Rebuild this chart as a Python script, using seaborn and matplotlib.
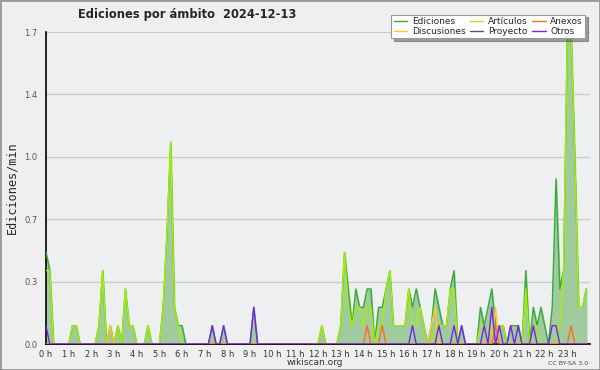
import numpy as np
import pandas as pd
import seaborn as sns
import matplotlib
matplotlib.use("Agg")
import matplotlib.pyplot as plt
from matplotlib.ticker import MultipleLocator, FixedLocator
from matplotlib.lines import Line2D
from matplotlib.patches import Rectangle

# ediciones por minuto, una fila = 2 horas (tramos de 10 min)
ediciones = [
    0.5, 0.4, 0, 0, 0, 0, 0, 0.1, 0.1, 0, 0, 0,
    0, 0, 0.1, 0.4, 0, 0.1, 0, 0.1, 0, 0.3, 0.1, 0.1,
    0, 0, 0, 0.1, 0, 0, 0, 0.2, 0.6, 1.1, 0.2, 0.1,
    0.1, 0, 0, 0, 0, 0, 0, 0, 0.1, 0, 0, 0.1,
    0, 0, 0, 0, 0, 0, 0, 0.2, 0, 0, 0, 0,
    0, 0, 0, 0, 0, 0, 0, 0, 0, 0, 0, 0,
    0, 0.1, 0, 0, 0, 0, 0.1, 0.5, 0.3, 0.1, 0.3, 0.2,
    0.2, 0.3, 0.3, 0, 0.2, 0.2, 0.3, 0.4, 0.1, 0.1, 0.1, 0.1,
    0.3, 0.2, 0.3, 0.2, 0.1, 0, 0.1, 0.3, 0.2, 0.1, 0.1, 0.3,
    0.4, 0, 0.1, 0, 0, 0, 0, 0.2, 0.1, 0.2, 0.3, 0.1,
    0.1, 0.1, 0, 0.1, 0.1, 0.1, 0, 0.4, 0, 0.2, 0.1, 0.2,
    0.1, 0, 0.2, 0.9, 0.3, 0.4, 1.7, 1.7, 1.0, 0.2, 0.2, 0.3,
]
articulos = [
    0.4, 0.4, 0, 0, 0, 0, 0, 0.1, 0.1, 0, 0, 0,
    0, 0, 0.1, 0.4, 0, 0, 0, 0.1, 0, 0.3, 0.1, 0.1,
    0, 0, 0, 0.1, 0, 0, 0, 0.2, 0.6, 1.1, 0.2, 0.1,
    0, 0, 0, 0, 0, 0, 0, 0, 0, 0, 0, 0,
    0, 0, 0, 0, 0, 0, 0, 0, 0, 0, 0, 0,
    0, 0, 0, 0, 0, 0, 0, 0, 0, 0, 0, 0,
    0, 0.1, 0, 0, 0, 0, 0.1, 0.5, 0.2, 0.1, 0.2, 0.2,
    0.1, 0.2, 0.2, 0, 0.1, 0.1, 0.3, 0.4, 0.1, 0.1, 0.1, 0.1,
    0.3, 0.1, 0.1, 0.2, 0.1, 0, 0, 0.1, 0.1, 0.1, 0.1, 0.3,
    0.3, 0, 0, 0, 0, 0, 0, 0.1, 0.1, 0, 0.1, 0.1,
    0.1, 0.1, 0, 0, 0, 0, 0, 0.3, 0, 0.1, 0.1, 0,
    0, 0, 0, 0, 0.1, 0.4, 1.7, 1.7, 1.0, 0.2, 0.2, 0.3,
]
# series casi vacias: indice del tramo -> valor
discusiones = {17: 0.1, 102: 0.1, 103: 0.2, 119: 0.2}
proyecto = {}
anexos = {85: 0.1, 89: 0.1, 119: 0.1, 139: 0.1}
otros = {0: 0.1, 44: 0.1, 47: 0.1, 55: 0.2, 97: 0.1, 104: 0.1, 108: 0.1,
         110: 0.1, 116: 0.1, 118: 0.2, 120: 0.1, 123: 0.1, 125: 0.1,
         129: 0.1, 134: 0.1, 135: 0.1}

n = len(ediciones)
horas = np.arange(n) / 6


def completa(d):
    v = np.zeros(n)
    for k, val in d.items():
        v[k] = val
    return v


series = {
    'Ediciones': np.array(ediciones),
    'Artículos': np.array(articulos),
    'Discusiones': completa(discusiones),
    'Proyecto': completa(proyecto),
    'Anexos': completa(anexos),
    'Otros': completa(otros),
}
colores = {
    'Ediciones': '#3aaa3a',
    'Artículos': '#aaee00',
    'Discusiones': '#ffc830',
    'Proyecto': '#555555',
    'Anexos': '#ff6a22',
    'Otros': '#7a22ee',
}
orden_dibujo = ['Ediciones', 'Artículos', 'Discusiones', 'Proyecto', 'Anexos', 'Otros']

df = pd.concat([pd.DataFrame({'hora': horas, 'valor': series[s], 'serie': s})
                for s in orden_dibujo], ignore_index=True)

sns.set_style('white')
plt.rcParams['font.family'] = ['DejaVu Sans']

fig = plt.figure(figsize=(6, 3.7), dpi=100, facecolor='#efefef')
ax = fig.add_axes([46 / 600, 1 - 344 / 370, 544 / 600, 312 / 370])
ax.set_facecolor('#eeeff1')

ax.fill_between(horas, series['Ediciones'], color='#9fcb9f', zorder=1)
sns.lineplot(data=df, x='hora', y='valor', hue='serie', hue_order=orden_dibujo,
             palette=colores, linewidth=1.0, legend=False, ax=ax, zorder=3)

ax.set_xlim(0, 24)
ax.set_ylim(0, 1.7)
ax.set_xlabel('')
ax.set_ylabel('Ediciones/min', family='DejaVu Sans Mono', fontsize=8.5, labelpad=4)

ax.xaxis.set_major_locator(FixedLocator(range(24)))
ax.set_xticklabels([f'{h} h' for h in range(24)], fontsize=6, color='#333333')
ax.xaxis.set_minor_locator(MultipleLocator(1 / 6))
yt = np.linspace(0, 1.7, 6)
ax.set_yticks(yt)
ax.set_yticklabels([f'{v:.1f}' for v in yt], fontsize=6, color='#555555')
ax.yaxis.set_minor_locator(MultipleLocator(1.7 / 15))
ax.tick_params(axis='both', which='both', direction='out', color='black', width=1)
ax.tick_params(axis='x', which='major', length=4, pad=0)
ax.tick_params(axis='x', which='minor', length=4)
ax.tick_params(axis='y', which='major', length=5, pad=1)
ax.tick_params(axis='y', which='minor', length=3)
ax.grid(axis='y', color='#cccccc', linewidth=1)
ax.set_axisbelow(True)
for lado in ['top', 'right']:
    ax.spines[lado].set_visible(False)
for lado in ['left', 'bottom']:
    ax.spines[lado].set_color('black')
    ax.spines[lado].set_linewidth(1.2)

fig.text(0.312, 0.962, 'Ediciones por ámbito  2024-12-13', ha='center', va='center',
         fontsize=8.3, fontweight='bold')
fig.text(0.525, 0.02, 'wikiscan.org', ha='center', va='center', fontsize=6.5, color='#333333')
fig.text(0.98, 0.018, 'CC BY-SA 3.0', ha='right', va='center', fontsize=4.5, color='#444444')

orden_leyenda = ['Ediciones', 'Discusiones', 'Artículos', 'Proyecto', 'Anexos', 'Otros']
manijas = [Line2D([], [], color=colores[s], linewidth=1) for s in orden_leyenda]
leg = fig.legend(manijas, orden_leyenda, ncol=3, loc='upper right',
                 bbox_to_anchor=(590 / 600, 1 - 10 / 370), fontsize=6.5,
                 handlelength=1.5, handletextpad=0.5, columnspacing=0.5,
                 labelspacing=0.05, borderpad=0.3, fancybox=False, shadow=True,
                 framealpha=1, edgecolor='#999999')
leg.get_frame().set_linewidth(0.8)

fig.patches.append(Rectangle((0, 0), 1, 1, transform=fig.transFigure, fill=False,
                             edgecolor='#999999', linewidth=2))

fig.savefig('out.png', dpi=100, facecolor=fig.get_facecolor())
